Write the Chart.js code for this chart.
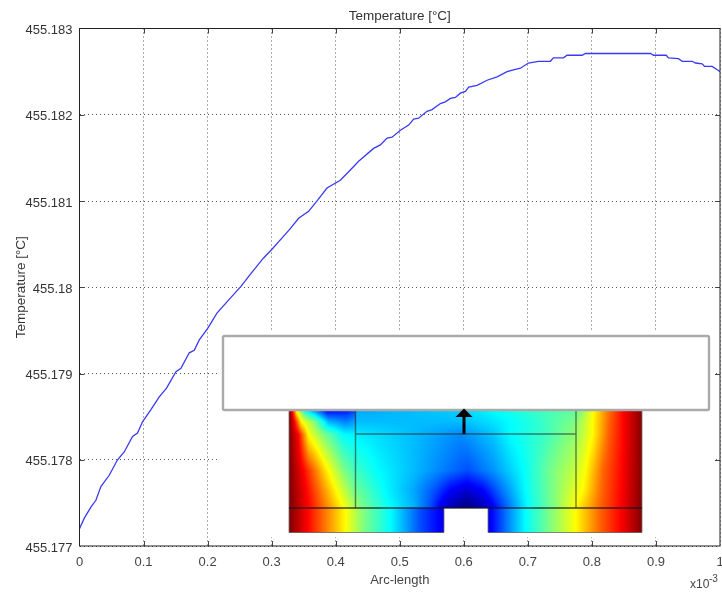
<!DOCTYPE html>
<html><head><meta charset="utf-8">
<style>html,body{margin:0;padding:0;background:#fff}#w{width:722px;height:593px}</style>
<script src="https://cdn.jsdelivr.net/npm/chart.js@4"></script>
</head><body><div id="w"><canvas id="c" width="722" height="593"></canvas></div>
<script>
const arcLength = [0,.0073,.0178,.0256,.0334,.0464,.0594,.0698,.0828,.0906,.0984,.1115,.1245,.1359,.1506,.1584,.1714,.1792,.1870,.1999,.2146,.2327,.2521,.2666,.2874,.3005,.3135,.3291,.3421,.3577,.3718,.3864,.4072,.4255,.4358,.4592,.4697,.4802,.4880,.5010,.5139,.5217,.5295,.5426,.5504,.5634,.5713,.5790,.5868,.5947,.6025,.6076,.6207,.6364,.6520,.6676,.6775,.6884,.7009,.7165,.7352,.7399,.7556,.7613,.7848,.7899,.8915,.8962,.9160,.9196,.9352,.9410,.9566,.9617,.9722,.9758,.9878,.9981,1];
const temperature = [455.17720,455.17732,455.17745,455.17753,455.17769,455.17782,455.17800,455.17809,455.17827,455.17831,455.17844,455.17858,455.17873,455.17883,455.17902,455.17906,455.17924,455.17927,455.17939,455.17952,455.17970,455.17985,455.18001,455.18015,455.18034,455.18044,455.18055,455.18068,455.18080,455.18088,455.18101,455.18115,455.18124,455.18138,455.18146,455.18161,455.18165,455.18173,455.18174,455.18182,455.18188,455.18195,455.18196,455.18204,455.18206,455.18213,455.18215,455.18219,455.18220,455.18225,455.18227,455.18232,455.18234,455.18240,455.18244,455.18250,455.18252,455.18254,455.18260,455.18262,455.18262,455.18266,455.18266,455.18269,455.18269,455.18271,455.18271,455.18269,455.18269,455.18266,455.18265,455.18262,455.18262,455.18260,455.18259,455.18256,455.18256,455.18251,455.18250];
const xTicks = [0,.1,.2,.3,.4,.5,.6,.7,.8,.9,1];
const xTickLabels = ['0','0.1','0.2','0.3','0.4','0.5','0.6','0.7','0.8','0.9','1'];
const yTicks = [455.177,455.178,455.179,455.18,455.181,455.182,455.183];
const yTickLabels = ['455.177','455.178','455.179','455.18','455.181','455.182','455.183'];
const titleText = 'Temperature [°C]';
const xTitle = 'Arc-length';

// inset picture: jet-colour field, each row = y, then [x, level] stops
const fieldRows = [
 [410,[[289,1],[292,.875],[296,.625],[305,.375],[316,.25],[327,.125],[347,.15],[355,.2],[356,.29],[460,.33],[493,.375],[527,.42],[575,.47],[582,.52],[593,.625],[610,.78],[623,.875],[642,1]]],
 [421,[[289,1],[294,.875],[301,.625],[314,.5],[328,.3],[345,.25],[355,.28],[356,.31],[460,.31],[493,.35],[527,.4],[575,.5],[592,.625],[609,.78],[623,.875],[642,1]]],
 [434,[[289,1],[298,.875],[308,.625],[323,.5],[343,.375],[356,.36],[380,.34],[413,.31],[460,.26],[493,.32],[510,.375],[543,.43],[575,.52],[592,.625],[608,.78],[623,.875],[642,1]]],
 [470,[[289,1],[303,.875],[328,.625],[343,.5],[354,.44],[377,.375],[413,.31],[447,.24],[467,.2],[493,.27],[523,.375],[553,.5],[575,.57],[585,.625],[603,.78],[622,.875],[642,1]]],
 [490,[[289,1],[306,.875],[336,.625],[352,.5],[384,.375],[413,.29],[435,.2],[450,.12],[466,.08],[482,.12],[498,.22],[525,.375],[553,.5],[575,.6],[582,.625],[602,.78],[621,.875],[642,1]]],
 [507,[[289,1],[308,.875],[343,.625],[360,.5],[390,.375],[413,.3],[430,.2],[443,.08],[466,0],[487,.07],[503,.2],[527,.375],[553,.5],[575,.625],[600,.78],[620,.875],[642,1]]]
];
const stripStops = [[289,1],[307,.875],[345,.625],[363,.5],[390,.375],[420,.2],[444,.1],[488,.1],[507,.25],[525,.375],[550,.5],[575,.625],[600,.78],[620,.875],[642,1]];

function lerpStops(st,x){
  if(x<=st[0][0])return st[0][1];
  for(let i=1;i<st.length;i++){ if(x<=st[i][0]){const a=st[i-1],b=st[i];return a[1]+(b[1]-a[1])*(x-a[0])/(b[0]-a[0]);} }
  return st[st.length-1][1];
}
function jet(v){
  const c=t=>Math.max(0,Math.min(1,t));
  return [c(1.5-Math.abs(4*v-3))*255,c(1.5-Math.abs(4*v-2))*255,c(1.5-Math.abs(4*v-1))*255];
}
function fieldCanvas(){
  const W=353,H=123,off=document.createElement('canvas');off.width=W;off.height=H;
  const g=off.getContext('2d'),im=g.createImageData(W,H);
  for(let j=0;j<H;j++){const y=410+j;
    for(let i=0;i<W;i++){const x=289+i;let v;
      if(y>=508){v=lerpStops(stripStops,x);}
      else{let k=0;while(k<fieldRows.length-2&&y>fieldRows[k+1][0])k++;
        const r0=fieldRows[k],r1=fieldRows[k+1],t=(y-r0[0])/(r1[0]-r0[0]);
        v=lerpStops(r0[1],x)*(1-t)+lerpStops(r1[1],x)*t;}
      const c=jet(v),p=(j*W+i)*4;im.data[p]=c[0];im.data[p+1]=c[1];im.data[p+2]=c[2];im.data[p+3]=255;}
  }
  g.putImageData(im,0,0);return off;
}
const field=fieldCanvas();

const frame={id:'frame',
 afterDatasetsDraw(ch){
  const g=ch.ctx,a=ch.chartArea,sx=ch.scales.x,sy=ch.scales.y;
  g.save();
  // inset background and picture
  g.fillStyle='#fff';g.fillRect(220,332,495,205);
  g.filter='blur(0.6px)';
  g.drawImage(field,289,410);
  g.filter='none';
  g.fillStyle='#fff';g.fillRect(444,508,44,26);
  g.fillRect(280,533,370,4);
  g.strokeStyle='rgba(110,110,110,.8)';g.lineWidth=1;
  g.beginPath();g.moveTo(289,410);g.lineTo(289,532.5);g.lineTo(444,532.5);g.lineTo(444,508);g.moveTo(488,508);g.lineTo(488,532.5);g.lineTo(642,532.5);g.lineTo(642,410);g.stroke();
  g.strokeStyle='rgba(40,40,40,.6)';g.lineWidth=1.4;
  g.beginPath();g.moveTo(355.5,410);g.lineTo(355.5,508);g.moveTo(576,410);g.lineTo(576,508);g.moveTo(355.5,434);g.lineTo(576,434);g.stroke();
  g.strokeStyle='rgba(20,20,30,.8)';g.lineWidth=1.5;
  g.beginPath();g.moveTo(289,508);g.lineTo(642,508);g.stroke();
  g.fillStyle='#fff';g.strokeStyle='#aaa';g.lineWidth=2.4;
  g.beginPath();g.roundRect(223,336,486,74,1.5);g.fill();g.stroke();
  g.fillStyle='#000';g.fillRect(462.5,416,3,18);
  g.beginPath();g.moveTo(464,408.5);g.lineTo(472.5,417);g.lineTo(455.5,417);g.closePath();g.fill();
  // inner tick marks
  g.strokeStyle='#444';g.lineWidth=1;g.beginPath();
  xTicks.slice(1,-1).forEach(v=>{const p=Math.round(sx.getPixelForValue(v))+.5;g.moveTo(p,a.top);g.lineTo(p,a.top+5);g.moveTo(p,a.bottom);g.lineTo(p,a.bottom-5);});
  yTicks.slice(1,-1).forEach(v=>{const p=Math.round(sy.getPixelForValue(v))+.5;g.moveTo(a.left,p);g.lineTo(a.left+5,p);g.moveTo(a.right,p);g.lineTo(a.right-5,p);});
  g.stroke();
  // axes box
  g.strokeStyle='#222';g.lineWidth=1;g.strokeRect(a.left,a.top,a.right-a.left,a.bottom-a.top);
  // axis multiplier
  g.fillStyle='#444';g.textBaseline='middle';g.textAlign='left';
  g.font='12px "Liberation Sans"';g.fillText('x10',690,585);
  g.font='10px "Liberation Sans"';g.fillText('-3',709,579);
  g.restore();
 }};

new Chart(document.getElementById('c'),{
 type:'line',
 data:{datasets:[{data:arcLength.map((x,i)=>({x,y:temperature[i]})),borderColor:'#3a3af2',borderWidth:1.3,pointRadius:0,tension:0,fill:false}]},
 plugins:[frame],
 options:{responsive:false,animation:false,events:[],
  layout:{padding:{left:0,right:2,top:0,bottom:0}},
  plugins:{legend:{display:false},tooltip:{enabled:false},
   title:{display:true,fullSize:false,text:titleText,color:'#333',font:{family:'"Liberation Sans"',size:13.5,weight:'normal',lineHeight:1},padding:{top:10,bottom:5}}},
  scales:{
   x:{type:'linear',min:0,max:1,
    afterBuildTicks(s){s.ticks=xTicks.map(value=>({value}));},
    afterFit(s){s.height=47;s.paddingLeft=0;s.paddingRight=0;},
    grid:{color:'#555',lineWidth:1,drawTicks:false},border:{display:false,dash:[1,3]},
    ticks:{color:'#444',font:{family:'"Liberation Sans"',size:13},padding:9,maxRotation:0,autoSkip:false,callback:(v,i)=>xTickLabels[i]},
    title:{display:true,text:xTitle,color:'#444',font:{family:'"Liberation Sans"',size:13},padding:{top:0,bottom:5}}},
   y:{type:'linear',min:455.177,max:455.183,
    afterBuildTicks(s){s.ticks=yTicks.map(value=>({value}));},
    afterFit(s){s.width=79.5;},
    grid:{color:'#555',lineWidth:1,drawTicks:false},border:{display:false,dash:[1,3]},
    ticks:{color:'#333',font:{family:'"Liberation Sans"',size:13},padding:7,labelOffset:2,autoSkip:false,callback:(v,i)=>yTickLabels[i]},
    title:{display:true,text:titleText,color:'#333',font:{family:'"Liberation Sans"',size:13.5},padding:{top:13,bottom:0}}}
  }}
});
</script></body></html>
